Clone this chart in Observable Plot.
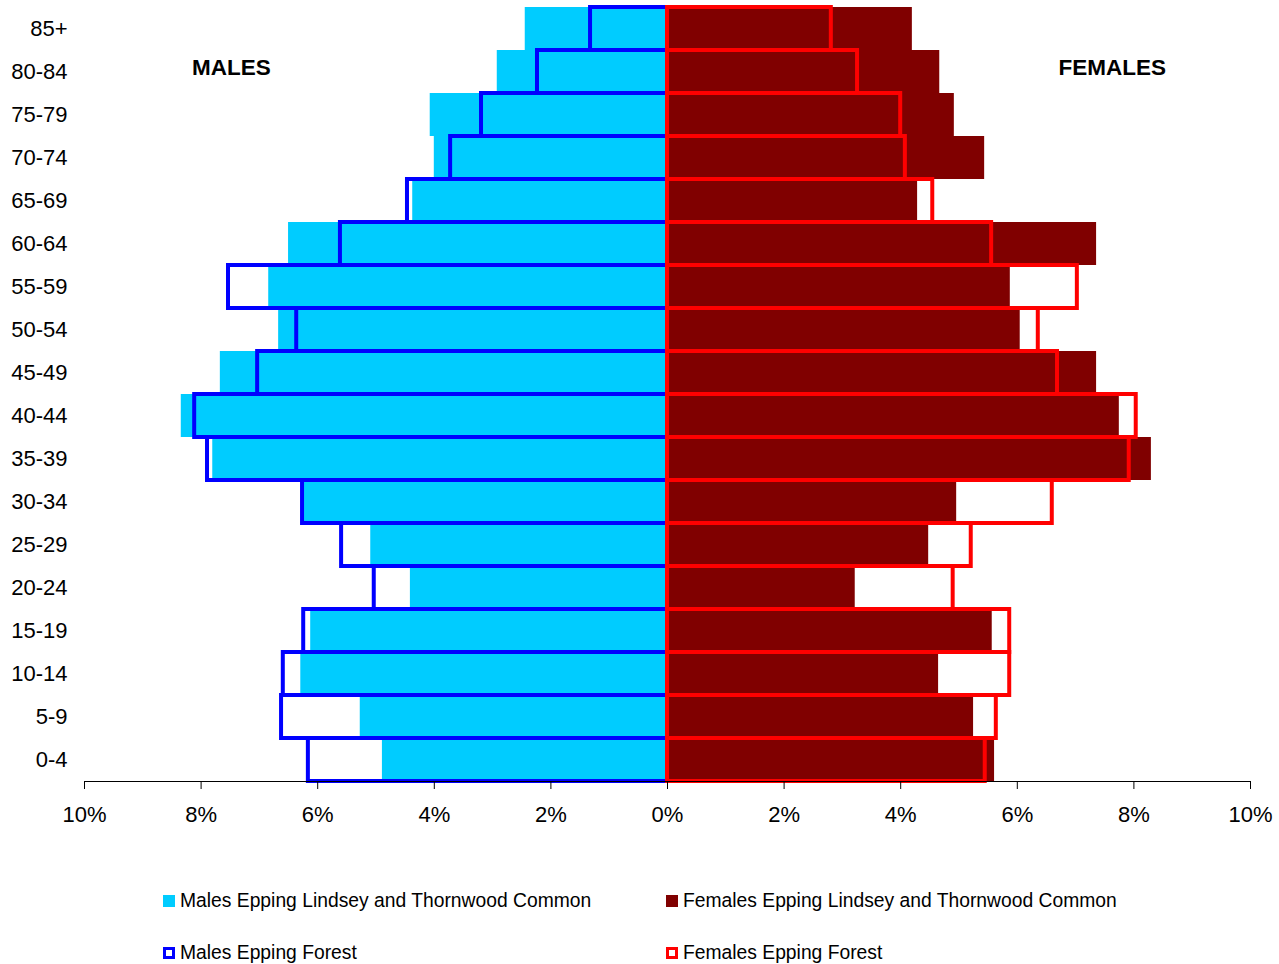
<!DOCTYPE html>
<html><head><meta charset="utf-8">
<script src="https://cdn.jsdelivr.net/npm/d3@7"></script>
<script src="https://cdn.jsdelivr.net/npm/@observablehq/plot@0.6"></script>
<style>
body{margin:0;background:#fff;font-family:"Liberation Sans",Arial,sans-serif;}
#legend{position:relative;width:1279px;height:122px;font-size:19.3px;color:#000;}
.item{position:absolute;display:flex;align-items:center;white-space:nowrap;}
.sw{width:12px;height:12px;box-sizing:border-box;margin-right:5px;}
</style></head>
<body>
<div id="chart"></div>
<div id="legend"></div>
<script>
const ages = ["85+","80-84","75-79","70-74","65-69","60-64","55-59","50-54","45-49","40-44","35-39","30-34","25-29","20-24","15-19","10-14","5-9","0-4"];
const malesLindsey   = [2.44,2.92,4.07,4.00,4.37,6.50,6.84,6.67,7.67,8.34,7.80,6.24,5.09,4.41,6.12,6.29,5.27,4.89];
const malesForest    = [1.32,2.23,3.19,3.72,4.46,5.61,7.53,6.36,7.03,8.11,7.89,6.26,5.59,5.03,6.24,6.59,6.62,6.16];
const femalesLindsey = [4.20,4.67,4.92,5.44,4.29,7.36,5.88,6.05,7.36,7.75,8.30,4.96,4.48,3.22,5.57,4.65,5.25,5.61];
const femalesForest  = [2.81,3.26,4.00,4.08,4.55,5.56,7.03,6.36,6.69,8.04,7.92,6.60,5.21,4.90,5.87,5.87,5.64,5.45];
const xTicks = [-10,-8,-6,-4,-2,0,2,4,6,8,10];
const seriesNames = ["Males Epping Lindsey and Thornwood Common","Females Epping Lindsey and Thornwood Common","Males Epping Forest","Females Epping Forest"];
const sideLabels = [{label:"MALES", x:-7.48, age:"80-84"},{label:"FEMALES", x:7.63, age:"80-84"}];

const rows = ages.map((a,i)=>({age:a, mL:malesLindsey[i], mF:malesForest[i], fL:femalesLindsey[i], fF:femalesForest[i]}));

const chart = Plot.plot({
  width:1279, height:842,
  marginLeft:84, marginRight:29, marginTop:7, marginBottom:61,
  style:{fontFamily:"Liberation Sans, Arial, sans-serif", fontSize:"22px", color:"#000", background:"#fff"},
  x:{domain:[-10,10]},
  y:{domain:ages, paddingInner:0, paddingOuter:0},
  marks:[
    Plot.barX(rows,{y:"age", x1:d=>-d.mL, x2:0, fill:"#00CCFF"}),
    Plot.barX(rows,{y:"age", x1:0, x2:"fL", fill:"#800000"}),
    Plot.barX(rows,{y:"age", x1:d=>-d.mF, x2:0, fill:"none", stroke:"#0000FF", strokeWidth:4}),
    Plot.barX(rows,{y:"age", x1:0, x2:"fF", fill:"none", stroke:"#FF0000", strokeWidth:4}),
    Plot.text(sideLabels,{x:"x", y:"age", text:"label", fontWeight:"bold", fontSize:22.5, dy:-4}),
    Plot.frame({anchor:"bottom", stroke:"#000"}),
    Plot.axisX({ticks:xTicks, tickFormat:d=>Math.abs(d)+"%", tickSize:8, tickPadding:17, label:null}),
    Plot.axisY({tickSize:0, tickPadding:17, label:null})
  ]
});
document.getElementById("chart").appendChild(chart);

const leg = document.getElementById("legend");
const items = [
  {name:seriesNames[0], left:163, top:59, fill:"#00CCFF", border:null},
  {name:seriesNames[1], left:666, top:59, fill:"#800000", border:null},
  {name:seriesNames[2], left:163, top:111, fill:"#fff", border:"#0000FF"},
  {name:seriesNames[3], left:666, top:111, fill:"#fff", border:"#FF0000"}
];
for(const it of items){
  const d=document.createElement("div"); d.className="item";
  d.style.left=it.left+"px"; d.style.top=(it.top-12)+"px"; d.style.height="24px";
  const s=document.createElement("span"); s.className="sw"; s.style.background=it.fill;
  if(it.border) s.style.border="3px solid "+it.border;
  d.appendChild(s);
  const t=document.createElement("span"); t.textContent=it.name; d.appendChild(t);
  leg.appendChild(d);
}
</script>
</body></html>
